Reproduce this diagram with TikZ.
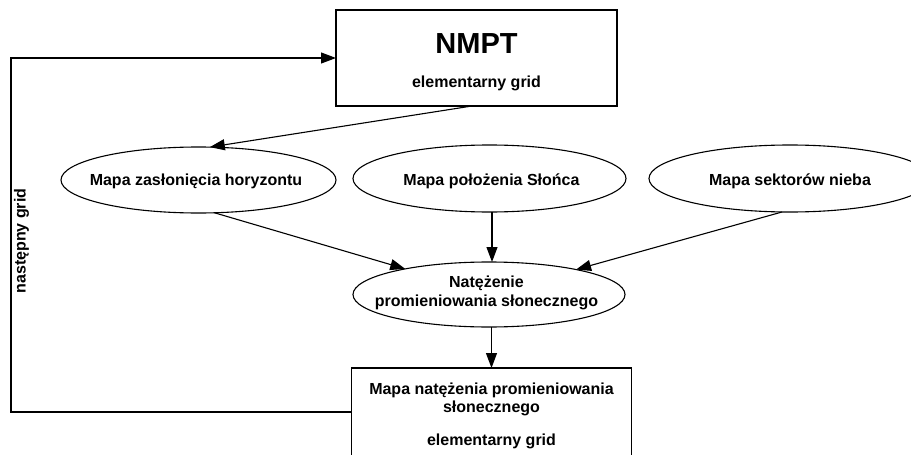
\documentclass[tikz,border=0pt]{standalone}
\usepackage{fontspec}
\setmainfont{Liberation Sans}
\usetikzlibrary{shapes.geometric,arrows.meta}
\tikzset{
  box/.style={draw, line width=1.1pt, inner sep=0pt, outer sep=0pt},
  ell/.style={draw, ellipse, line width=1.1pt, inner sep=0pt, outer sep=0pt},
  lbl/.style={font=\fontsize{16}{19}\selectfont\bfseries, inner sep=0pt, anchor=base},
  big/.style={font=\fontsize{29}{34}\selectfont\bfseries, inner sep=0pt, anchor=base},
  arr/.style={line width=1.1pt, -{Triangle[length=15pt,width=11pt]}},
}
\begin{document}
\begin{tikzpicture}[x=1pt,y=-1pt]
\useasboundingbox (0,0) rectangle (911,455);
\clip (0,0) rectangle (911,455);
% shapes
\node[box, minimum width=281pt, minimum height=96pt] (nmpt) at (476.5,58) {};
\node[ell, minimum width=275pt, minimum height=66pt] (zas) at (198.5,180) {};
\node[ell, minimum width=273pt, minimum height=67pt] (pol) at (489.5,178.5) {};
\node[ell, minimum width=282pt, minimum height=67pt] (sek) at (790,178.5) {};
\node[ell, minimum width=272pt, minimum height=65pt] (nat) at (489,294.5) {};
\node[box, minimum width=280pt, minimum height=88pt] (mapa) at (491.5,412) {};
\coordinate (fb) at (11,240);
% texts
\node[big] (t1) at (476.5,53) {NMPT};
\node[lbl] (t2) at (476.5,87) {elementarny grid};
\node[lbl] (t3) at (196,185.5) {Mapa zasłonięcia horyzontu};
\node[lbl] (t4) at (491.5,185.5) {Mapa położenia Słońca};
\node[lbl] (t5) at (790,185.5) {Mapa sektorów nieba};
\node[lbl] (t6) at (486.5,287) {Natężenie};
\node[lbl] (t7) at (486.5,306) {promieniowania słonecznego};
\node[lbl] (t8) at (491.5,394.3) {Mapa natężenia promieniowania};
\node[lbl] (t9) at (491.5,412.3) {słonecznego};
\node[lbl] (t10) at (491.5,445) {elementarny grid};
\node[lbl, anchor=center, rotate=90] (t11) at (21.5,241) {następny grid};
% connectors
\draw[arr] ([xshift=-4.5pt]nmpt.south) -- (zas.71);
\draw[arr] (zas.-64) -- (nat.163);
\draw[arr] ([xshift=2.5pt]pol.south) -- ([xshift=3pt]nat.north);
\draw[arr] ([xshift=-8pt]sek.south) -- (nat.16);
\draw[arr] (nat.south -| mapa.north) -- (mapa.north);
\draw[arr] (mapa.west) -| (fb) |- (nmpt.west);
\end{tikzpicture}
\end{document}
